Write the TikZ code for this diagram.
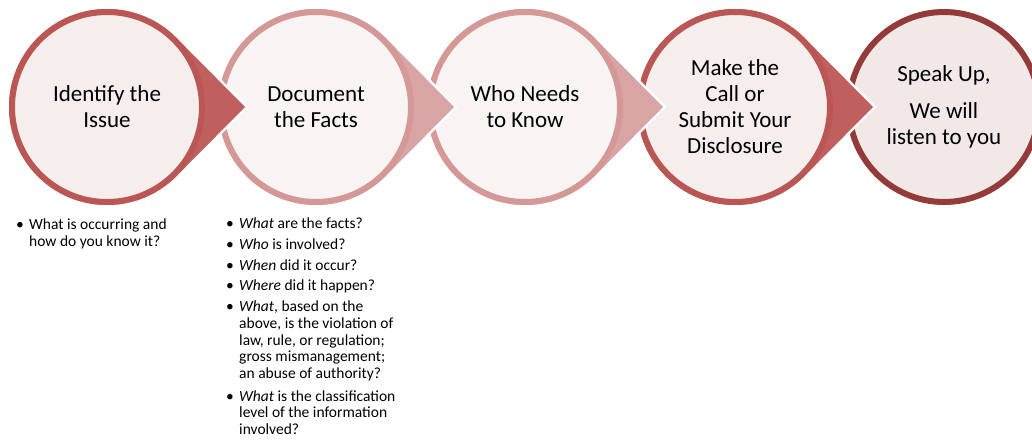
\documentclass[tikz,border=0pt]{standalone}
\usepackage{fontspec}
\setmainfont{Carlito}
\definecolor{tipred}{RGB}{191,96,94}
\definecolor{ringred}{RGB}{186,86,84}
\definecolor{tippink}{RGB}{217,165,164}
\definecolor{ringpink}{RGB}{212,152,151}
\definecolor{ringdark}{RGB}{148,58,56}
\definecolor{palered}{RGB}{246,237,237}
\definecolor{palepink}{RGB}{248,244,244}
\definecolor{paledark}{RGB}{241,232,231}
\newcommand{\StepTip}[2]{
  \fill [#1, preaction={draw=white, line width=5pt}] (#2,-107) ++(44.76:98)
    arc [start angle=44.76, end angle=315.24, radius=98] -- (#2+138,-107) -- cycle;
}
\newcommand{\Step}[6]{
  \StepTip{#1}{#5}
  \node [stepcircle, draw=#2, fill=#3] (#4) at (#5,-107) {#6};
}
\newcommand{\Pt}{\makebox[13pt][l]{\textbullet}}

\begin{document}
\begin{tikzpicture}[x=1pt, y=1pt,
    stepcircle/.style={circle, minimum size=190pt, inner sep=0pt, line width=6pt,
      align=center, font=\fontsize{23}{26}\selectfont},
    notes/.style={anchor=north west, inner sep=0pt, font=\fontsize{15.5}{16.7}\selectfont}]

        \useasboundingbox (0,0) rectangle (1032,-443);

        % steps, drawn right to left so each tip sits on the next circle
        \node [stepcircle, draw=ringdark, fill=paledark] (speak) at (944,-107)
          {Speak Up,\\[11pt] We will\\ listen to you};
        \Step{tipred}{ringred}{palered}{call}{735}{Make the\\ Call or\\ Submit Your\\ Disclosure}
        \Step{tippink}{ringpink}{palepink}{who}{525}{Who Needs\\ to Know}
        \Step{tippink}{ringpink}{palepink}{facts}{316}{Document\\ the Facts}
        \Step{tipred}{ringred}{palered}{issue}{107}{Identify the\\ Issue}

        % notes under the first two steps
        \node [notes] (issue notes) at (16,-218) {\begin{tabular}{@{}l@{}l@{}}
          \Pt & What is occurring and\\
              & how do you know it?
        \end{tabular}};

        \node [notes] (facts notes) at (226,-217) {\begin{tabular}{@{}l@{}l@{}}
          \Pt & \emph{What} are the facts?\\[4pt]
          \Pt & \emph{Who} is involved?\\[4pt]
          \Pt & \emph{When} did it occur?\\[4pt]
          \Pt & \emph{Where} did it happen?\\[4pt]
          \Pt & \emph{What}, based on the\\
              & above, is the violation of\\
              & law, rule, or regulation;\\
              & gross mismanagement;\\
              & an abuse of authority?\\[6pt]
          \Pt & \emph{What} is the classification\\
              & level of the information\\
              & involved?
        \end{tabular}};

\end{tikzpicture}
\end{document}
